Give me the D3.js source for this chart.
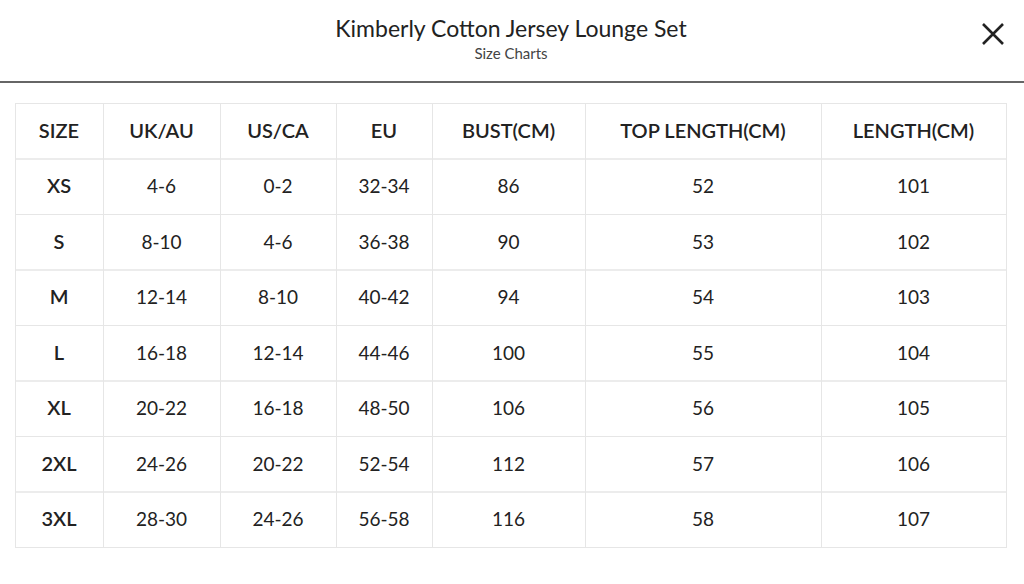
<!DOCTYPE html>
<html><head><meta charset="utf-8">
<script src="https://cdn.jsdelivr.net/npm/d3@7"></script>
<style>body{margin:0;background:#fff;font-family:Lato,"Noto Sans",sans-serif;}</style>
</head><body>
<svg id="chart" width="1024" height="584"></svg>
<script>
// Table data
const headers = ["SIZE", "UK/AU", "US/CA", "EU", "BUST(CM)", "TOP LENGTH(CM)", "LENGTH(CM)"];
const sizes = ["XS", "S", "M", "L", "XL", "2XL", "3XL"];
const ukau = ["4-6", "8-10", "12-14", "16-18", "20-22", "24-26", "28-30"];
const usca = ["0-2", "4-6", "8-10", "12-14", "16-18", "20-22", "24-26"];
const eu = ["32-34", "36-38", "40-42", "44-46", "48-50", "52-54", "56-58"];
const bust = [86, 90, 94, 100, 106, 112, 116];
const topLength = [52, 53, 54, 55, 56, 57, 58];
const length = [101, 102, 103, 104, 105, 106, 107];

const svg = d3.select("#chart");
const ink = "#222";

// Header area
svg.append("text").attr("x", 511).attr("y", 37).attr("text-anchor", "middle")
    .attr("font-size", 23).attr("fill", ink).text("Kimberly Cotton Jersey Lounge Set");
svg.append("text").attr("x", 511).attr("y", 59).attr("text-anchor", "middle")
    .attr("font-size", 15).attr("fill", "#444").text("Size Charts");
svg.append("path").attr("d", "M983,24L1003,44M1003,24L983,44")
    .attr("stroke", ink).attr("stroke-width", 2.6);
svg.append("line").attr("x1", 0).attr("x2", 1024).attr("y1", 82).attr("y2", 82)
    .attr("stroke", "#333").attr("stroke-width", 1.5);

// Table grid
const colEdges = [15, 103, 220, 336, 432, 585, 821, 1006];
const rows = sizes.map((s, i) => [s, ukau[i], usca[i], eu[i], bust[i], topLength[i], length[i]]);
const allRows = [headers].concat(rows);
const y = d3.scaleBand().domain(d3.range(allRows.length)).range([103, 547]);

const g = svg.append("g");
allRows.forEach((row, r) => {
    row.forEach((v, c) => {
        g.append("rect")
            .attr("x", colEdges[c] + 0.5).attr("y", y(r) + 0.5)
            .attr("width", colEdges[c + 1] - colEdges[c]).attr("height", y.bandwidth())
            .attr("fill", "none").attr("stroke", "#e6e6e6");
        g.append("text")
            .attr("x", (colEdges[c] + colEdges[c + 1]) / 2)
            .attr("y", y(r) + y.bandwidth() / 2 + 7)
            .attr("text-anchor", "middle")
            .attr("font-size", r === 0 ? 20 : (c === 0 ? 20 : 19))
            .attr("font-weight", (r === 0 || c === 0) ? 600 : 400)
            .attr("fill", ink)
            .text(v);
    });
});
</script>
</body></html>
